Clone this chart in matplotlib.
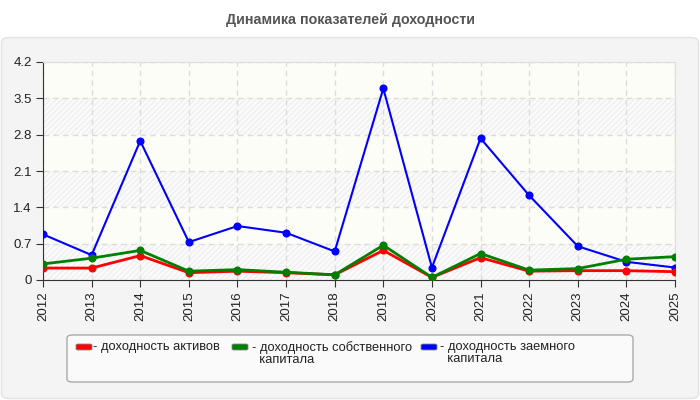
import matplotlib.pyplot as plt
from matplotlib.patches import FancyBboxPatch

# --- Data ---
years = list(range(2012, 2026))
roa = [0.23, 0.23, 0.47, 0.14, 0.17, 0.14, 0.10, 0.57, 0.05, 0.43, 0.17, 0.18, 0.18, 0.16]
roe = [0.31, 0.42, 0.57, 0.17, 0.20, 0.15, 0.10, 0.67, 0.05, 0.51, 0.19, 0.22, 0.40, 0.45]
rod = [0.88, 0.48, 2.68, 0.73, 1.04, 0.91, 0.55, 3.69, 0.24, 2.73, 1.63, 0.65, 0.35, 0.24]
yticks = [0, 0.7, 1.4, 2.1, 2.8, 3.5, 4.2]
ytick_labels = ["0", "0.7", "1.4", "2.1", "2.8", "3.5", "4.2"]
series_names = ["- доходность активов",
                "- доходность собственного\n  капитала",
                "- доходность заемного\n  капитала"]
colors = ["#ff0000", "#008000", "#0000ff"]

plt.rcParams["font.family"] = ["Liberation Sans", "DejaVu Sans"]

fig = plt.figure(figsize=(7, 4), dpi=100)
fig.patch.set_facecolor("white")

# outer panel
panel = FancyBboxPatch((1.5 / 700, 1.5 / 400), 697 / 700, 361 / 400,
                       boxstyle="round,pad=0,rounding_size=0.012",
                       transform=fig.transFigure, facecolor="#f4f4f4",
                       edgecolor="#e2e2e2", lw=1, zorder=-10)
fig.patches.append(panel)

fig.text(0.5, 1 - 20 / 400, "Динамика показателей доходности", ha="center", va="center",
         fontsize=10.3, fontweight="bold", color="#555555")

ax = fig.add_axes([43 / 700, 0.3, 632 / 700, 218 / 400])
ax.set_facecolor("#fdfdf7")

# alternating hatched bands
for i in range(len(yticks) - 1):
    if i % 2 == 0:
        ax.axhspan(yticks[i], yticks[i + 1], facecolor="#fbfbfb", edgecolor="#efefef",
                   hatch="//////", lw=0, zorder=0)

ax.grid(True, color="#dcdcdc", linestyle=(0, (4, 3)), lw=1)
ax.set_axisbelow(True)

ax.plot(years, rod, color=colors[2], lw=1.5, marker="o", ms=4.8, zorder=3)
ax.plot(years, roa, color=colors[0], lw=2, marker="o", ms=4.8, zorder=3.5)
ax.plot(years, roe, color=colors[1], lw=2, marker="o", ms=4.8, zorder=4)

ax.set_xlim(2012, 2025)
ax.set_ylim(0, 4.2)
ax.set_xticks(years)
ax.set_xticklabels([str(y) for y in years], rotation=90, fontsize=9.5, color="#222222")
ax.set_yticks(yticks)
ax.set_yticklabels(ytick_labels, fontsize=9.5, color="#222222")
ax.tick_params(direction="out", length=5, color="#333333", pad=3)

for s in ["left", "bottom"]:
    ax.spines[s].set_color("#333333")
for s in ["top", "right"]:
    ax.spines[s].set_color("#dddddd")

# legend box
lx0, ly0, lx1, ly1 = 67, 335, 633, 382
leg = FancyBboxPatch((lx0 / 700, 1 - ly1 / 400), (lx1 - lx0) / 700, (ly1 - ly0) / 400,
                     boxstyle="round,pad=0,rounding_size=0.008",
                     transform=fig.transFigure, facecolor="#fafafa",
                     edgecolor="#aaaaaa", lw=1, zorder=1)
fig.patches.append(leg)

swatch_x = [76, 232, 421]
text_x = [93, 252, 440]
for sx, tx, name, c in zip(swatch_x, text_x, series_names, colors):
    fig.patches.append(FancyBboxPatch((sx / 700, 1 - 350 / 400), 16 / 700, 6 / 400,
                                      boxstyle="round,pad=0,rounding_size=0.003",
                                      transform=fig.transFigure, facecolor=c,
                                      edgecolor="#888888", lw=0.6, zorder=2))
    fig.text(tx / 700, 1 - 341 / 400, name, ha="left", va="top", fontsize=9.3,
             color="#222222", linespacing=1.0)

fig.savefig("out.png", dpi=100, facecolor=fig.get_facecolor())
